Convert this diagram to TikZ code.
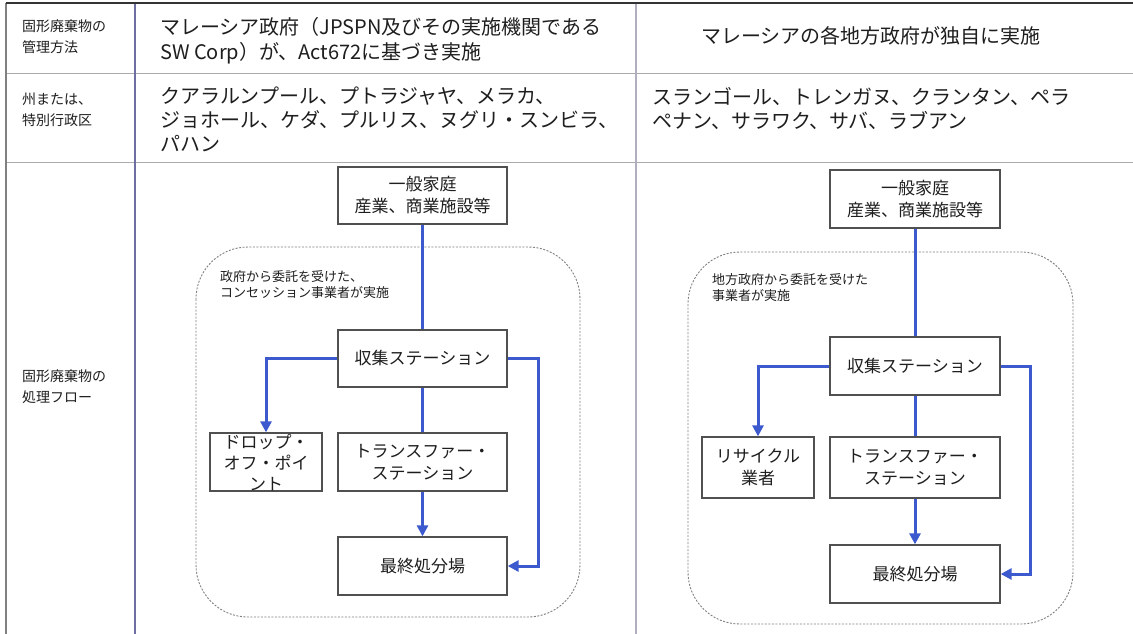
\documentclass[tikz,border=0pt]{standalone}
\usepackage{fontspec}
\newfontfamily\jp{Noto Sans CJK JP}
\usetikzlibrary{arrows.meta}
\definecolor{flowblue}{RGB}{60,90,205}
\definecolor{boxgray}{RGB}{80,80,80}
\definecolor{txt}{RGB}{30,30,30}
\definecolor{gridblue}{RGB}{110,110,160}
\definecolor{gridlight}{RGB}{175,175,190}
\definecolor{rowgray}{RGB}{170,170,170}
\tikzset{
  lbl/.style={anchor=north west, inner sep=0pt, align=left, text=txt,
    font=\jp\fontsize{14}{21}\selectfont},
  big/.style={anchor=north west, inner sep=0pt, align=left, text=txt,
    font=\jp\fontsize{20}{25}\selectfont},
  small/.style={anchor=north west, inner sep=0pt, align=left, text=txt,
    font=\jp\fontsize{13}{16.5}\selectfont},
  flowbox/.style={draw=boxgray, line width=1.3pt, fill=white, inner sep=0pt,
    align=center, text=txt, font=\jp\fontsize{17}{22}\selectfont},
  boxtext/.style={inner sep=0pt, align=center, text=txt,
    font=\jp\fontsize{17}{21}\selectfont},
  region/.style={draw=gray, line width=0.9pt, dash pattern=on 2pt off 1.5pt,
    rounded corners=52pt},
  flow/.style={draw=flowblue, line width=3pt},
  flowarrow/.style={flow, -{Triangle[length=11pt,width=11pt]}},
}
\begin{document}
\begin{tikzpicture}[x=1pt,y=-1pt]
\useasboundingbox (0,0) rectangle (1133,634);
\fill[white] (0,0) rectangle (1133,634);

% table grid
\draw[rowgray, line width=1pt] (6,74) -- (1133,74);
\draw[rowgray, line width=1pt] (6,162) -- (1133,162);
\draw[gridlight, line width=1.3pt] (636,3) -- (636,634);
\draw[gridblue, line width=1.6pt] (135,3) -- (135,634);
\draw[gray, line width=1.6pt] (6,3) -- (6,634);
\draw[black!80, line width=2pt] (6,3) -- (1133,3);

% table texts
\node[lbl] (l1) at (22,20) {固形廃棄物の\\管理方法};
\node[lbl] (l2) at (22,93) {州または、\\特別行政区};
\node[lbl] (l3) at (22,370) {固形廃棄物の\\処理フロー};

\node[big] (t1) at (160,17) {マレーシア政府（JPSPN及びその実施機関である\\SW Corp）が、Act672に基づき実施};
\node[big, anchor=north] (t2) at (871,26) {マレーシアの各地方政府が独自に実施};
\node[big, font=\jp\fontsize{20}{24}\selectfont] (t3) at (160,87) {クアラルンプール、プトラジャヤ、メラカ、\\ジョホール、ケダ、プルリス、ヌグリ・スンビラ、\\パハン};
\node[big, font=\jp\fontsize{20}{24}\selectfont] (t4) at (652,87) {スランゴール、トレンガヌ、クランタン、ペラ\\ペナン、サラワク、サバ、ラブアン};

% regions
\draw[region] (196,247) rectangle (580,617);
\draw[region] (688,252) rectangle (1073,624);
\node[small] (r1) at (220,270) {政府から委託を受けた、\\コンセッション事業者が実施};
\node[small] (r2) at (712,273) {地方政府から委託を受けた\\事業者が実施};

% left flow
\node[flowbox, minimum width=169pt, minimum height=57pt] (a1) at (422.5,195.5) {一般家庭\\産業、商業施設等};
\node[flowbox, minimum width=169pt, minimum height=57pt] (a2) at (422.5,358.5) {収集ステーション};
\node[flowbox, minimum width=112pt, minimum height=58pt] (a3) at (266,462) {};
\node[boxtext] (a3t) at (266,463) {ドロップ・\\オフ・ポイ\\ント};
\node[flowbox, minimum width=169pt, minimum height=58pt] (a4) at (422.5,462) {トランスファー・\\ステーション};
\node[flowbox, minimum width=169pt, minimum height=58pt] (a5) at (422.5,566) {最終処分場};
\coordinate (ar) at (538,566);

\draw[flow] (a1.south) -- (a2.north);
\draw[flowarrow] (a2.west) -| (a3.north);
\draw[flow] (a2.south) -- (a4.north);
\draw[flowarrow] (a4.south) -- (a5.north);
\draw[flowarrow] (a2.east) -| (ar) -- (a5.east);

% right flow
\node[flowbox, minimum width=170pt, minimum height=58pt] (b1) at (915,199) {一般家庭\\産業、商業施設等};
\node[flowbox, minimum width=170pt, minimum height=58pt] (b2) at (915,366) {収集ステーション};
\node[flowbox, minimum width=112pt, minimum height=61pt] (b3) at (758,467.5) {リサイクル\\業者};
\node[flowbox, minimum width=170pt, minimum height=61pt] (b4) at (915,467.5) {トランスファー・\\ステーション};
\node[flowbox, minimum width=170pt, minimum height=58pt] (b5) at (915,574) {最終処分場};
\coordinate (br) at (1030,574);

\draw[flow] (b1.south) -- (b2.north);
\draw[flowarrow] (b2.west) -| (b3.north);
\draw[flow] (b2.south) -- (b4.north);
\draw[flowarrow] (b4.south) -- (b5.north);
\draw[flowarrow] (b2.east) -| (br) -- (b5.east);
\end{tikzpicture}
\end{document}
